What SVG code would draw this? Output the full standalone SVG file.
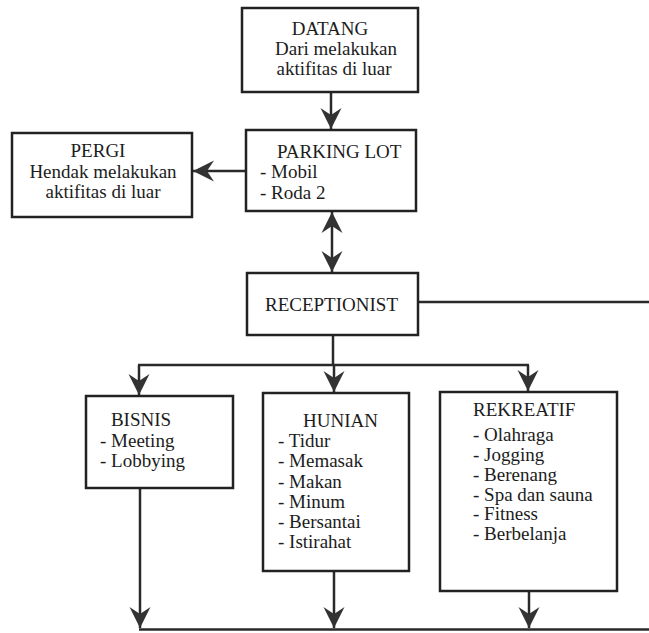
<svg xmlns="http://www.w3.org/2000/svg" width="649" height="633" viewBox="0 0 649 633">
  <style>
    .box { fill: #ffffff; stroke: #222222; stroke-width: 2.5; }
    .conn { fill: none; stroke: #2a2a2a; stroke-width: 2.5; }
    text { font-family: "Liberation Serif", "Times New Roman", serif; font-size: 19px; fill: #1c1c1c; }
    .c { text-anchor: middle; }
  </style>
  <defs>
    <marker id="arrow" markerUnits="userSpaceOnUse" viewBox="-22 -12 23 24" refX="0" refY="0" markerWidth="23" markerHeight="24" orient="auto-start-reverse">
      <path d="M0,0 L-21,-10.5 L-14,0 L-21,10.5 Z" fill="#333333"/>
    </marker>
  </defs>

  <rect width="649" height="633" fill="#ffffff"/>

  <!-- connectors -->
  <g id="connectors">
    <line class="conn" x1="331" y1="92" x2="331" y2="129" marker-end="url(#arrow)"/>
    <line class="conn" x1="246" y1="171" x2="193" y2="171" marker-end="url(#arrow)"/>
    <line class="conn" x1="332" y1="212" x2="332" y2="272" marker-start="url(#arrow)" marker-end="url(#arrow)"/>
    <line class="conn" x1="418" y1="302" x2="649" y2="302"/>
    <polyline class="conn" points="333,335 333,365"/>
    <line class="conn" x1="138" y1="365" x2="529" y2="365"/>
    <line class="conn" x1="139" y1="365" x2="139" y2="395" marker-end="url(#arrow)"/>
    <line class="conn" x1="334" y1="365" x2="334" y2="392" marker-end="url(#arrow)"/>
    <line class="conn" x1="528" y1="365" x2="528" y2="391" marker-end="url(#arrow)"/>
    <line class="conn" x1="140" y1="488" x2="140" y2="628" marker-end="url(#arrow)"/>
    <line class="conn" x1="334" y1="571" x2="334" y2="628" marker-end="url(#arrow)"/>
    <line class="conn" x1="529" y1="591" x2="529" y2="628" marker-end="url(#arrow)"/>
    <line class="conn" x1="139" y1="629.5" x2="649" y2="629.5"/>
  </g>

  <g id="datang">
    <rect class="box" x="242" y="8" width="176" height="84"/>
    <text class="c" x="330" y="35">DATANG</text>
    <text class="c" x="336" y="55">Dari melakukan</text>
    <text class="c" x="334" y="75">aktifitas di luar</text>
  </g>

  <g id="pergi">
    <rect class="box" x="12" y="133" width="180" height="84"/>
    <text class="c" x="98" y="157">PERGI</text>
    <text class="c" x="103" y="178">Hendak melakukan</text>
    <text class="c" x="103" y="198">aktifitas di luar</text>
  </g>

  <g id="parking-lot">
    <rect class="box" x="246" y="130" width="170" height="81"/>
    <text x="277" y="158">PARKING LOT</text>
    <text x="260" y="178">- Mobil</text>
    <text x="260" y="199">- Roda 2</text>
  </g>

  <g id="receptionist">
    <rect class="box" x="247" y="273" width="171" height="62"/>
    <text x="265" y="311">RECEPTIONIST</text>
  </g>

  <g id="bisnis">
    <rect class="box" x="86" y="396" width="147" height="92"/>
    <text class="c" x="141" y="426">BISNIS</text>
    <text x="100" y="447">- Meeting</text>
    <text x="100" y="467">- Lobbying</text>
  </g>

  <g id="hunian">
    <rect class="box" x="263" y="393" width="146" height="178"/>
    <text x="303" y="427">HUNIAN</text>
    <text x="278" y="447">- Tidur</text>
    <text x="278" y="467">- Memasak</text>
    <text x="278" y="488">- Makan</text>
    <text x="278" y="508">- Minum</text>
    <text x="278" y="528">- Bersantai</text>
    <text x="278" y="548">- Istirahat</text>
  </g>

  <g id="rekreatif">
    <rect class="box" x="440" y="392" width="177" height="199"/>
    <text x="473" y="416">REKREATIF</text>
    <text x="473" y="441">- Olahraga</text>
    <text x="473" y="461">- Jogging</text>
    <text x="473" y="481">- Berenang</text>
    <text x="473" y="501">- Spa dan sauna</text>
    <text x="473" y="520">- Fitness</text>
    <text x="473" y="540">- Berbelanja</text>
  </g>
</svg>
